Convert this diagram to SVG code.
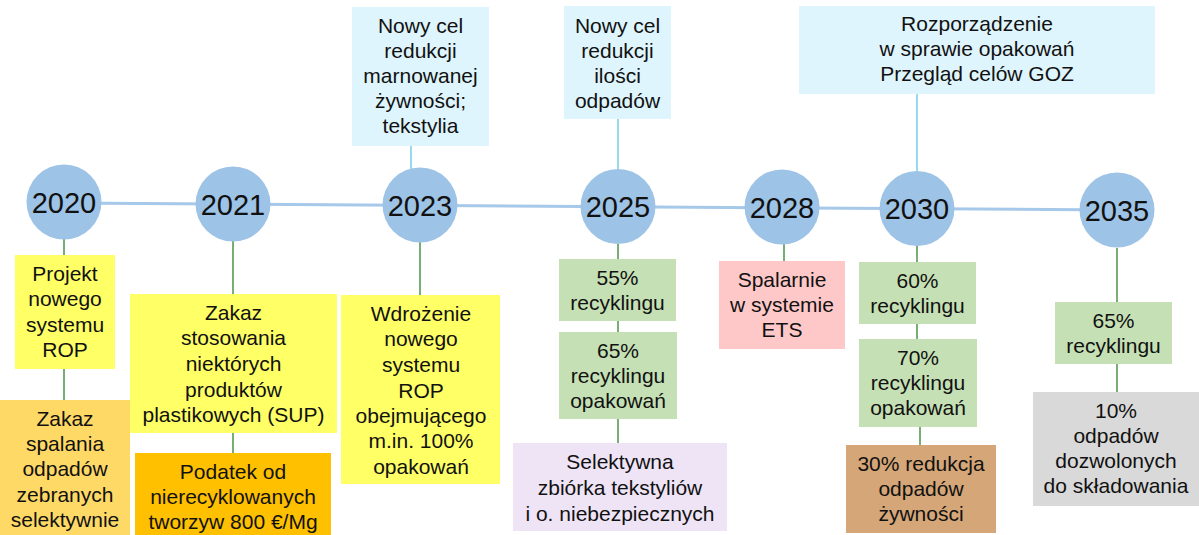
<svg xmlns="http://www.w3.org/2000/svg" width="1199" height="535" viewBox="0 0 1199 535">
<style>
  text { font-family: "Liberation Sans", Arial, sans-serif; fill: #111; text-anchor: middle; }
  .t { font-size: 21px; }
  .yr { font-size: 29px; }
  .yc { fill: #9dc3e6; }
  .g { stroke: #3f8a3a; stroke-width: 1.4; fill: none; }
  .c { stroke: #6ccbea; stroke-width: 1.4; fill: none; }
  .tl { stroke: #a6c8e9; stroke-width: 3; fill: none; }
  .yel { fill: #ffff66; }
  .org { fill: #ffd966; }
  .gold { fill: #ffc000; }
  .grn { fill: #c5e0b4; }
  .pnk { fill: #ffc8c8; }
  .lav { fill: #efe4f6; }
  .tan { fill: #d5a677; }
  .gry { fill: #d9d9d9; }
  .cy { fill: #dff5fd; }
</style>
<rect width="1199" height="535" fill="#ffffff"/>

<g id="connectors">
  <line class="tl" x1="64" y1="203" x2="1117" y2="210"/>
  <line class="c" x1="411" y1="146" x2="411" y2="170"/>
  <line class="c" x1="618" y1="119" x2="618" y2="172"/>
  <line class="c" x1="917" y1="94" x2="917" y2="173"/>
  <line class="g" x1="64" y1="239" x2="64" y2="255"/>
  <line class="g" x1="64" y1="369" x2="64" y2="400"/>
  <line class="g" x1="233" y1="241" x2="233" y2="294"/>
  <line class="g" x1="233" y1="433" x2="233" y2="453"/>
  <line class="g" x1="420" y1="242" x2="420" y2="295"/>
  <line class="g" x1="618" y1="244" x2="618" y2="259"/>
  <line class="g" x1="618" y1="321" x2="618" y2="332"/>
  <line class="g" x1="618" y1="419" x2="618" y2="443"/>
  <line class="g" x1="784" y1="244" x2="784" y2="261"/>
  <line class="g" x1="917" y1="246" x2="917" y2="262"/>
  <line class="g" x1="917" y1="324" x2="917" y2="339"/>
  <line class="g" x1="920" y1="427" x2="920" y2="445"/>
  <line class="g" x1="1117" y1="248" x2="1117" y2="302"/>
  <line class="g" x1="1117" y1="364" x2="1117" y2="392"/>
</g>

<g id="y2020"><circle class="yc" cx="64" cy="202" r="37.5"/><text class="yr" x="64" y="213">2020</text></g>
<g id="y2021"><circle class="yc" cx="233" cy="204" r="37.5"/><text class="yr" x="233" y="215">2021</text></g>
<g id="y2023"><circle class="yc" cx="420" cy="205" r="37.5"/><text class="yr" x="420" y="216">2023</text></g>
<g id="y2025"><circle class="yc" cx="618" cy="206.5" r="37.5"/><text class="yr" x="618" y="217">2025</text></g>
<g id="y2028"><circle class="yc" cx="782" cy="207" r="37.5"/><text class="yr" x="782" y="217.5">2028</text></g>
<g id="y2030"><circle class="yc" cx="917" cy="208.5" r="37.5"/><text class="yr" x="917" y="219">2030</text></g>
<g id="y2035"><circle class="yc" cx="1117" cy="210" r="37.5"/><text class="yr" x="1117" y="221">2035</text></g>

<g id="top2023">
  <rect class="cy" x="352" y="7" width="137" height="139"/>
  <text class="t" x="420.5" y="33">Nowy cel</text>
  <text class="t" x="420.5" y="58">redukcji</text>
  <text class="t" x="420.5" y="83">marnowanej</text>
  <text class="t" x="420.5" y="108">żywności;</text>
  <text class="t" x="420.5" y="133">tekstylia</text>
</g>
<g id="top2025">
  <rect class="cy" x="564" y="6" width="107" height="113"/>
  <text class="t" x="617.5" y="33">Nowy cel</text>
  <text class="t" x="617.5" y="58">redukcji</text>
  <text class="t" x="617.5" y="83">ilości</text>
  <text class="t" x="617.5" y="108">odpadów</text>
</g>
<g id="top2030">
  <rect class="cy" x="799" y="6" width="356" height="88"/>
  <text class="t" x="977" y="31">Rozporządzenie</text>
  <text class="t" x="977" y="56">w sprawie opakowań</text>
  <text class="t" x="977" y="81">Przegląd celów GOZ</text>
</g>

<g id="rop2020">
  <rect class="yel" x="15" y="255" width="100" height="114"/>
  <text class="t" x="65" y="281">Projekt</text>
  <text class="t" x="65" y="306">nowego</text>
  <text class="t" x="65" y="332">systemu</text>
  <text class="t" x="65" y="357">ROP</text>
</g>
<g id="spal2020">
  <rect class="org" x="0" y="400" width="130" height="135"/>
  <text class="t" x="65" y="426">Zakaz</text>
  <text class="t" x="65" y="451">spalania</text>
  <text class="t" x="65" y="476">odpadów</text>
  <text class="t" x="65" y="502">zebranych</text>
  <text class="t" x="65" y="527">selektywnie</text>
</g>
<g id="sup2021">
  <rect class="yel" x="130" y="294" width="207" height="139"/>
  <text class="t" x="233.5" y="320">Zakaz</text>
  <text class="t" x="233.5" y="345">stosowania</text>
  <text class="t" x="233.5" y="371">niektórych</text>
  <text class="t" x="233.5" y="397">produktów</text>
  <text class="t" x="233.5" y="422">plastikowych (SUP)</text>
</g>
<g id="tax2021">
  <rect class="gold" x="135" y="453" width="196" height="82"/>
  <text class="t" x="233" y="479">Podatek od</text>
  <text class="t" x="233" y="504">nierecyklowanych</text>
  <text class="t" x="233" y="529">tworzyw 800 €/Mg</text>
</g>
<g id="rop2023">
  <rect class="yel" x="341" y="295" width="159" height="189"/>
  <text class="t" x="421" y="321">Wdrożenie</text>
  <text class="t" x="421" y="346">nowego</text>
  <text class="t" x="421" y="372">systemu</text>
  <text class="t" x="421" y="398">ROP</text>
  <text class="t" x="421" y="423">obejmującego</text>
  <text class="t" x="421" y="448">m.in. 100%</text>
  <text class="t" x="421" y="474">opakowań</text>
</g>
<g id="rec55">
  <rect class="grn" x="559" y="259" width="117" height="62"/>
  <text class="t" x="617.5" y="285">55%</text>
  <text class="t" x="617.5" y="310">recyklingu</text>
</g>
<g id="rec65op">
  <rect class="grn" x="559" y="332" width="118" height="87"/>
  <text class="t" x="618" y="358">65%</text>
  <text class="t" x="618" y="383">recyklingu</text>
  <text class="t" x="618" y="408">opakowań</text>
</g>
<g id="selekt">
  <rect class="lav" x="513" y="443" width="214" height="88"/>
  <text class="t" x="620" y="469">Selektywna</text>
  <text class="t" x="620" y="495">zbiórka tekstyliów</text>
  <text class="t" x="620" y="521">i o. niebezpiecznych</text>
</g>
<g id="ets">
  <rect class="pnk" x="719" y="261" width="126" height="88"/>
  <text class="t" x="782" y="287">Spalarnie</text>
  <text class="t" x="782" y="312">w systemie</text>
  <text class="t" x="782" y="337">ETS</text>
</g>
<g id="rec60">
  <rect class="grn" x="859" y="262" width="117" height="62"/>
  <text class="t" x="917.5" y="288">60%</text>
  <text class="t" x="917.5" y="313">recyklingu</text>
</g>
<g id="rec70op">
  <rect class="grn" x="859" y="339" width="118" height="88"/>
  <text class="t" x="918" y="365">70%</text>
  <text class="t" x="918" y="390">recyklingu</text>
  <text class="t" x="918" y="415">opakowań</text>
</g>
<g id="food">
  <rect class="tan" x="846" y="445" width="150" height="88"/>
  <text class="t" x="921" y="471">30% redukcja</text>
  <text class="t" x="921" y="496">odpadów</text>
  <text class="t" x="921" y="521">żywności</text>
</g>
<g id="rec65">
  <rect class="grn" x="1055" y="302" width="117" height="62"/>
  <text class="t" x="1113.5" y="328">65%</text>
  <text class="t" x="1113.5" y="353">recyklingu</text>
</g>
<g id="landfill">
  <rect class="gry" x="1033" y="392" width="166" height="114"/>
  <text class="t" x="1116" y="418">10%</text>
  <text class="t" x="1116" y="443">odpadów</text>
  <text class="t" x="1116" y="468">dozwolonych</text>
  <text class="t" x="1116" y="493">do składowania</text>
</g>
</svg>
